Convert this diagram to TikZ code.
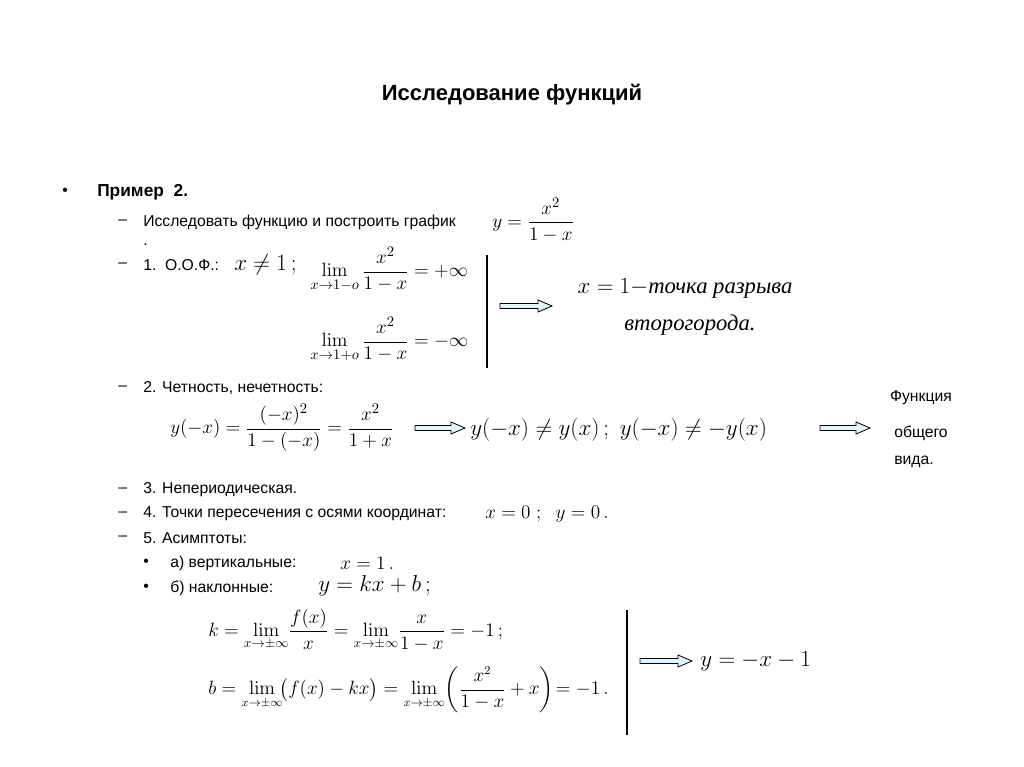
\documentclass[tikz,border=0pt]{standalone}
\usepackage{amsmath}
\usepackage[no-math]{fontspec}
\setmainfont{Liberation Sans}
\newfontfamily\ser{Liberation Serif}
\tikzset{
 txt/.style={anchor=west,inner sep=0pt,font=\fontsize{11.8}{13}\selectfont},
 mth/.style={anchor=west,inner sep=0pt,font=\fontsize{15}{17}\selectfont},
 blockarrow/.style={draw=black,fill=cyan!12,line width=0.6pt}
}
\newcommand{\barrow}[3]{\draw[blockarrow] (#1,#3-2.5) -- (#2-14,#3-2.5) -- (#2-14,#3-6) -- (#2,#3) -- (#2-14,#3+6) -- (#2-14,#3+2.5) -- (#1,#3+2.5) -- cycle;}
\begin{document}
\begin{tikzpicture}[x=0.75pt,y=-0.75pt]
\useasboundingbox (0,0) rectangle (1024,767);
\node[font=\bfseries\fontsize{16.5}{18}\selectfont] (title) at (512,95) {Исследование функций};
\node[txt] (b1) at (62,192) {•};
\node[txt,font=\bfseries\fontsize{13}{15}\selectfont] (ex) at (97,192) {Пример\ \ 2.};
\node[txt] (d1) at (118,222) {–};
\node[txt] (t1) at (143,222) {Исследовать функцию и построить график};
\node[mth] (f1) at (492,220) {$y=\dfrac{x^2}{1-x}$};
\node[txt] (dot) at (143,245) {.};
\node[txt] (d2) at (118,265) {–};
\node[txt] (t2) at (143,265) {1.\ \ О.О.Ф.:};
\node[mth,font=\fontsize{17}{19}\selectfont] (f2) at (234,265) {$x\neq 1\,;$};
\node[mth] (l1) at (310,270) {$\lim\limits_{x\to 1-o}\dfrac{x^2}{1-x}=+\infty$};
\node[mth] (l2) at (310,340) {$\lim\limits_{x\to 1+o}\dfrac{x^2}{1-x}=-\infty$};
\draw[line width=0.8pt] (487,255) -- (487,368);
\barrow{500}{552}{306}
\node[mth,anchor=center,font=\ser\fontsize{17}{19}\selectfont] (r1) at (685,288) {$x=1-$\textit{точка разрыва}};
\node[mth,anchor=center,font=\ser\fontsize{17}{19}\selectfont] (r2) at (690,325) {\textit{второгорода.}};
\node[txt] (d3) at (118,388) {–};
\node[txt] (t3) at (143,388) {2. Четность, нечетность:};
\node[mth] (f3) at (170,428) {$y(-x)=\dfrac{(-x)^2}{1-(-x)}=\dfrac{x^2}{1+x}$};
\barrow{415}{465}{428}
\node[mth,font=\fontsize{18.5}{20}\selectfont] (f4) at (470,430) {$y(-x)\neq y(x)\,;\ y(-x)\neq -y(x)$};
\barrow{820}{870}{428}
\node[txt,anchor=center] (g1) at (921,398) {Функция};
\node[txt,anchor=center] (g2) at (921,433) {общего};
\node[txt,anchor=center] (g3) at (914,462) {вида.};
\node[txt] (d4) at (118,490) {–};
\node[txt] (t4) at (143,490) {3. Непериодическая.};
\node[txt] (d5) at (118,514) {–};
\node[txt] (t5) at (143,514) {4. Точки пересечения с осями координат:};
\node[mth] (f5) at (485,514) {$x=0\ ;\ \ y=0\,.$};
\node[txt] (d6) at (118,538) {–};
\node[txt] (t6) at (143,538) {5. Асимптоты:};
\node[txt] (b2) at (143,563) {•};
\node[txt] (t7) at (170,563) {а) вертикальные:};
\node[mth] (f6) at (340,563) {$x=1\,.$};
\node[txt] (b3) at (143,588) {•};
\node[txt] (t8) at (170,588) {б) наклонные:};
\node[mth,font=\fontsize{17}{19}\selectfont] (f7) at (318,586) {$y=kx+b\,;$};
\node[mth,font=\fontsize{14.5}{16}\selectfont] (k) at (208,630) {$k=\lim\limits_{x\to\pm\infty}\!\dfrac{f(x)}{x}=\lim\limits_{x\to\pm\infty}\!\dfrac{x}{1-x}=-1\,;$};
\node[mth,font=\fontsize{13.5}{15}\selectfont] (bb) at (208,690) {$b=\lim\limits_{x\to\pm\infty}\!\bigl(f(x)-kx\bigr)=\lim\limits_{x\to\pm\infty}\!\left(\dfrac{x^2}{1-x}+x\right)\!=-1\,.$};
\draw[line width=0.8pt] (627,610) -- (627,735);
\barrow{640}{692}{661}
\node[mth,font=\fontsize{17}{19}\selectfont] (res) at (700,661) {$y=-x-1$};
\end{tikzpicture}
\end{document}
